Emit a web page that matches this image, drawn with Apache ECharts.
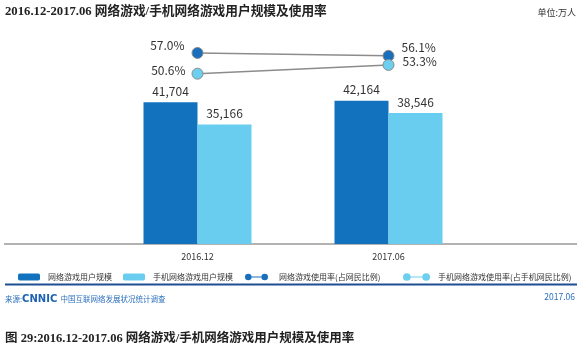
<!DOCTYPE html>
<html>
<head>
<meta charset="utf-8">
<script src="https://cdn.jsdelivr.net/npm/echarts@6/dist/echarts.min.js"></script>
<style>html,body{margin:0;padding:0;background:#fff;}#c{width:580px;height:359px;}</style>
</head>
<body>
<div id="c"></div>
<script>
const categories = ['2016.12', '2017.06'];
const gameUsers = [41704, 42164];
const mobileGameUsers = [35166, 38546];
const gameRate = [57.0, 56.1];
const mobileGameRate = [50.6, 53.3];
const seriesNames = ['网络游戏用户规模', '手机网络游戏用户规模', '网络游戏使用率(占网民比例)', '手机网络游戏使用率(占手机网民比例)'];

const chart = echarts.init(document.getElementById('c'), null, {renderer: 'canvas'});
const sans = '"Noto Sans CJK SC", "Noto Sans", sans-serif';
const serif = '"Liberation Serif", "Noto Sans CJK SC", serif';
const labelStyle = {color: '#333', fontSize: 12, fontFamily: sans};
const legendText = {fontSize: 8, color: '#333', fontFamily: sans, padding: [0, 0, 0, 3]};
const dotLineIcon = 'path://M0,4A4,4 0 1,0 8,4A4,4 0 1,0 0,4ZM8,3.4L20,3.4L20,4.6L8,4.6ZM20,4A4,4 0 1,0 28,4A4,4 0 1,0 20,4Z';

function rateData(arr, cfg) {
  return arr.map((v, i) => ({value: v, label: cfg[i]}));
}

const option = {
  animation: false,
  backgroundColor: '#fff',
  grid: {left: 102, right: 96, top: 40, bottom: 115},
  xAxis: {
    type: 'category', data: categories,
    axisLine: {show: false}, axisTick: {show: false},
    axisLabel: {color: '#333', fontSize: 9, fontFamily: sans, margin: 8}
  },
  yAxis: [
    {type: 'value', min: 0, max: 60000, show: false, splitLine: {show: false}},
    {type: 'value', min: -2, max: 61, show: false, splitLine: {show: false}}
  ],
  legend: [
    {data: [seriesNames[0]], left: 13, top: 268, itemWidth: 22, itemHeight: 7, textStyle: legendText},
    {data: [seriesNames[1]], left: 118, top: 268, itemWidth: 22, itemHeight: 7, textStyle: legendText},
    {data: [{name: seriesNames[2], icon: dotLineIcon}], left: 240, top: 268, itemWidth: 23, itemHeight: 7,
      itemStyle: {borderWidth: 0}, textStyle: {...legendText, padding: [0, 0, 0, 6]}},
    {data: [{name: seriesNames[3], icon: dotLineIcon}], left: 398, top: 268, itemWidth: 27, itemHeight: 8,
      itemStyle: {borderWidth: 0}, textStyle: {...legendText, padding: [0, 0, 0, 3]}}
  ],
  series: [
    {
      name: seriesNames[0], type: 'bar', data: gameUsers, barWidth: 54, barGap: '0%',
      itemStyle: {color: '#1272be'},
      label: {show: true, position: 'top', distance: 5, ...labelStyle,
        formatter: p => p.value.toLocaleString('en-US')}
    },
    {
      name: seriesNames[1], type: 'bar', data: mobileGameUsers, barWidth: 54,
      itemStyle: {color: '#68cdee'},
      label: {show: true, position: 'top', distance: 5, ...labelStyle,
        formatter: p => p.value.toLocaleString('en-US')}
    },
    {
      name: seriesNames[2], type: 'line', yAxisIndex: 1, data: rateData(gameRate, [
        {show: true, position: 'left', distance: 7, offset: [0, -8]},
        {show: true, position: 'right', distance: 7, offset: [0, -8]}
      ]),
      symbol: 'circle', symbolSize: 11, z: 5,
      lineStyle: {color: '#8c8c8c', width: 1.5},
      itemStyle: {color: '#1a6fbd', borderColor: '#8c8c8c', borderWidth: 1},
      label: {...labelStyle, formatter: p => p.value.toFixed(1) + '%'}
    },
    {
      name: seriesNames[3], type: 'line', yAxisIndex: 1, data: rateData(mobileGameRate, [
        {show: true, position: 'left', distance: 6, offset: [0, -3]},
        {show: true, position: 'right', distance: 8, offset: [0, -3]}
      ]),
      symbol: 'circle', symbolSize: 11, z: 5,
      lineStyle: {color: '#8c8c8c', width: 1.5},
      itemStyle: {color: '#6ccff0', borderColor: '#8c8c8c', borderWidth: 1},
      label: {...labelStyle, formatter: p => p.value.toFixed(1) + '%'}
    }
  ],
  graphic: [
    {type: 'text', left: 5, top: 5, style: {text: '2016.12-2017.06 网络游戏/手机网络游戏用户规模及使用率', font: 'bold 12.7px ' + serif, fill: '#222'}},
    {type: 'text', right: 4, top: 8, style: {text: '单位:万人', font: '9px ' + sans, fill: '#333'}},
    {type: 'line', shape: {x1: 4, y1: 244, x2: 577, y2: 244}, style: {stroke: '#999', lineWidth: 1.5}},
    {type: 'line', shape: {x1: 5, y1: 284.5, x2: 577, y2: 284.5}, style: {stroke: '#1d4f91', lineWidth: 2}},
    {type: 'text', left: 5, top: 293, style: {
      text: '{a|来源:}{b|CNNIC} {a|中国互联网络发展状况统计调查}',
      rich: {
        a: {fontSize: 7.5, fontFamily: sans, fill: '#2c6fbd'},
        b: {fontSize: 10, fontWeight: 'bold', fontFamily: '"DejaVu Sans", sans-serif', fill: '#1c62b4'}
      }
    }},
    {type: 'text', right: 5, top: 293, style: {text: '2017.06', font: '8.5px ' + sans, fill: '#2c6fbd'}},
    {type: 'text', left: 5, top: 333, style: {text: '图 29:2016.12-2017.06 网络游戏/手机网络游戏用户规模及使用率', font: 'bold 12.5px ' + serif, fill: '#222'}}
  ]
};
chart.setOption(option);
</script>
</body>
</html>
